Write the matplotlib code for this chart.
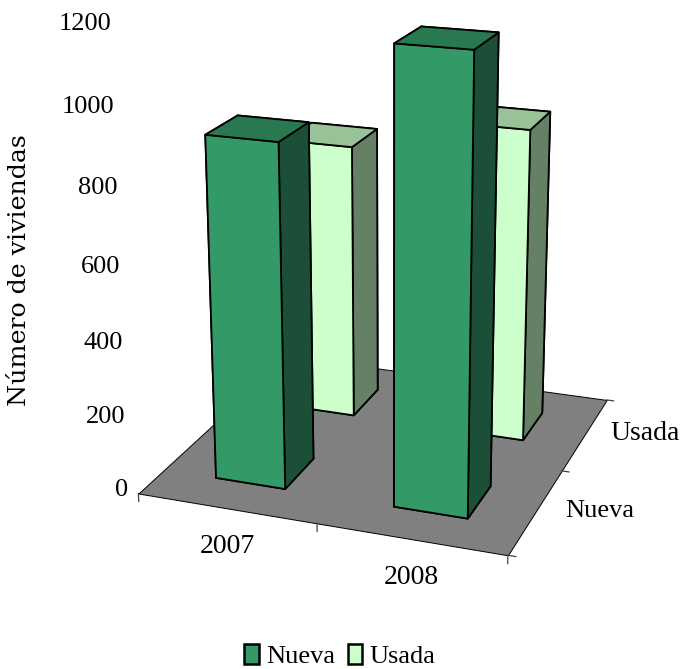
import numpy as np
import matplotlib
matplotlib.use('Agg')
import matplotlib.pyplot as plt
from matplotlib.patches import Patch
from mpl_toolkits.mplot3d.art3d import Poly3DCollection

years = ['2007', '2008']
series = ['Nueva', 'Usada']
nueva = [914, 1177]
usada = [770, 862]
z_ticks = [0, 200, 400, 600, 800, 1000, 1200]

plt.rcParams['font.family'] = ['Liberation Serif', 'DejaVu Serif']

# camera found by fitting the corners of the reference
s, cx, cy = 3729.77, 385.05, 230.96
fig = plt.figure(figsize=(6.82, 6.69), dpi=100)
ax = fig.add_axes([(cx - 0.095 * s) / 682, (669 - cy - 0.095 * s) / 669, 0.185 * s / 682, 0.185 * s / 669],
                  projection='3d', computed_zorder=False)
ax.view_init(18.362, -70.063, 0.064)
ax.set_proj_type('persp', focal_length=np.exp(-0.6565))
ax.set_box_aspect((np.exp(-0.2114), np.exp(-0.2023), 1))
ax.set_axis_off()

nx, ny = len(years), len(series)
w, d = 0.198, 0.196

floor = Poly3DCollection([[(0, 0, 0), (nx, 0, 0), (nx, ny, 0), (0, ny, 0)]],
                         facecolor='#808080', edgecolor='k', linewidth=0.7, zorder=1)
ax.add_collection3d(floor)

# face order in bar3d: bottom, top, front, back, left, right
col_u = ['#CCFFCC', '#99C299', '#CCFFCC', '#CCFFCC', '#668066', '#668066']
col_n = ['#339966', '#287850', '#339966', '#339966', '#1C4F38', '#1C4F38']
xs = np.arange(nx) + 0.5 - w
ax.bar3d(xs, np.full(nx, 1.5 - d), np.zeros(nx), 2 * w, 2 * d, usada, color=col_u * nx,
         edgecolor='k', linewidth=1.3, shade=False, zorder=2)
ax.bar3d(xs, np.full(nx, 0.5 - d), np.zeros(nx), 2 * w, 2 * d, nueva, color=col_n * nx,
         edgecolor='k', linewidth=1.3, shade=False, zorder=3)

# small tick marks on the floor
for i in range(nx + 1):
    ax.plot([i, i], [0, 0], [0, -22], color='#444444', lw=0.9, zorder=1.5)
for j in range(ny + 1):
    ax.plot([nx, nx + 0.04], [j, j], [0, 0], color='#444444', lw=0.9, zorder=1.5)

for v in z_ticks:
    ax.text(-0.06 + 0.03 * v / 1200, 0, v + 5, str(v), ha='right', va='center', fontsize=19, zorder=5)
ax.text(0.68, -0.38, 0, years[0], ha='center', va='center', fontsize=20, zorder=5)
ax.text(1.63, -0.37, 0, years[1], ha='center', va='center', fontsize=20, zorder=5)
ax.text(2.305, 0.61, 0, series[0], ha='center', va='center', fontsize=19, zorder=5)
ax.text(2.315, 1.62, 0, series[1], ha='center', va='center', fontsize=20, zorder=5)

ax.set_xlim(0, nx)
ax.set_ylim(0, ny)
ax.set_zlim(0, 1200)
ax.set_xticks([])
ax.set_yticks([])
ax.set_zticks([])

fig.text(20 / 682, 1 - 270 / 669, 'Número de viviendas', rotation=90, ha='center', va='center',
         fontsize=18.2, family=['DejaVu Serif'])
handles = [Patch(facecolor='#339966', edgecolor='k', linewidth=1.8),
           Patch(facecolor='#CCFFCC', edgecolor='k', linewidth=1.8)]
fig.legend(handles, series, loc='center', bbox_to_anchor=(340 / 682, 1 - 656 / 669), ncol=2, frameon=False,
           fontsize=19, handlelength=0.55, handleheight=0.8, handletextpad=0.3, columnspacing=0.45,
           borderpad=0, borderaxespad=0)

fig.savefig('out.png', dpi=100)
